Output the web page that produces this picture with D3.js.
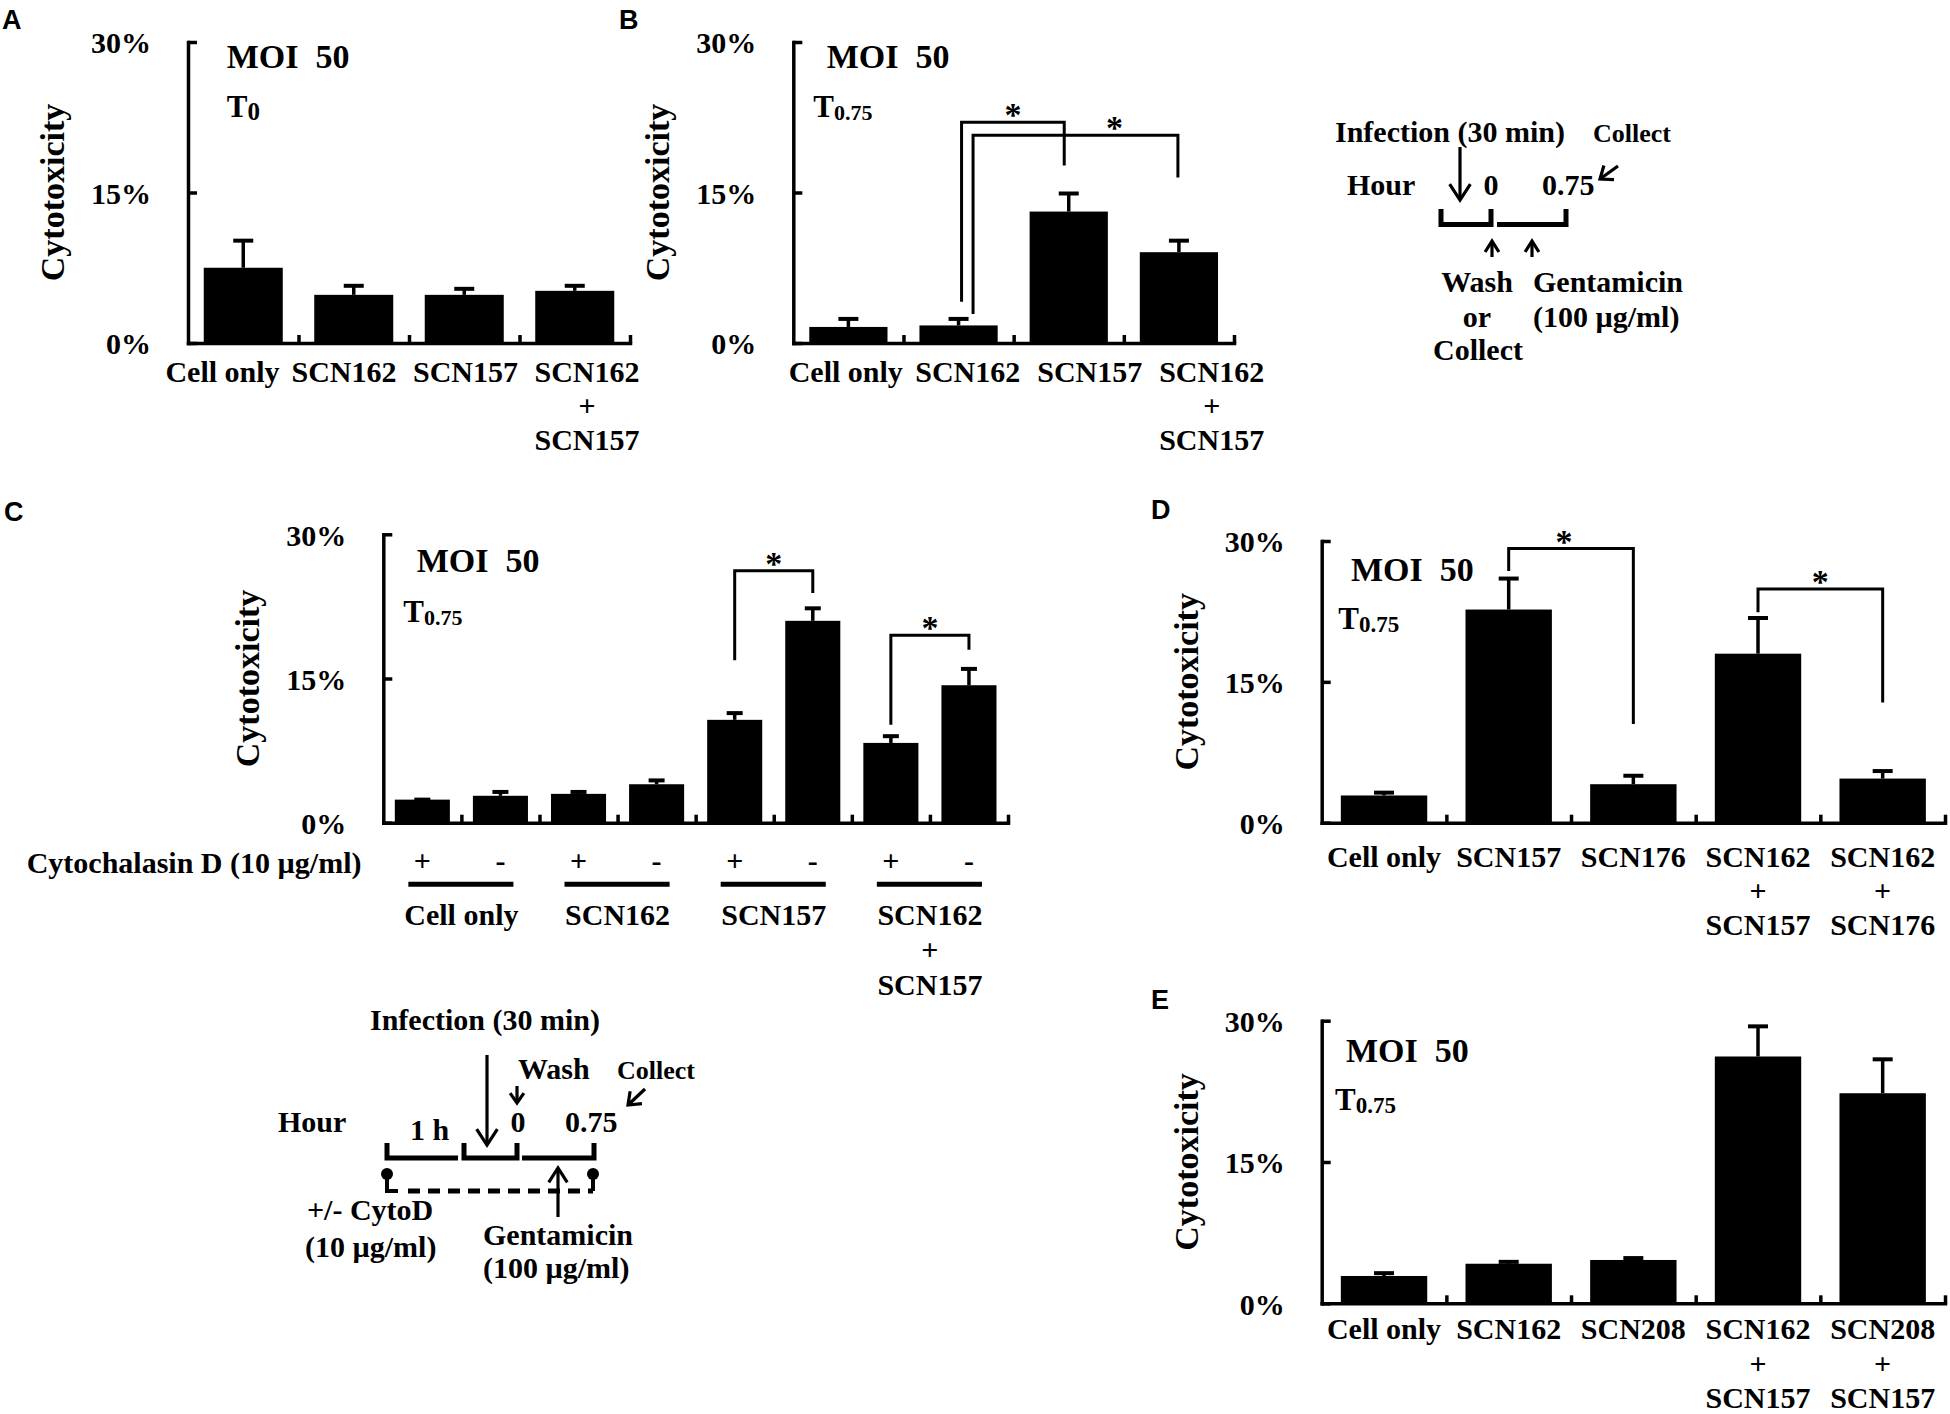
<!DOCTYPE html>
<html><head><meta charset="utf-8">
<script src="https://cdn.jsdelivr.net/npm/d3@7"></script>
<style>
body{margin:0;background:#fff;}
svg text{font-family:"Liberation Serif","Times New Roman",serif;font-weight:bold;fill:#000;}
svg text.plabel{font-family:"Liberation Sans",Arial,sans-serif;}
</style></head><body>
<svg id="fig" width="1950" height="1414" xmlns="http://www.w3.org/2000/svg"></svg>
<script>
// ---------------- DATA ----------------
const yTickValues = [0, 15, 30];
const yTickLabels = ["0%", "15%", "30%"];

const catsA = ["Cell only", "SCN162", "SCN157", "SCN162\n+\nSCN157"];
const valsA = [7.5, 4.8, 4.8, 5.2];
const errA  = [10.2, 5.7, 5.4, 5.7];

const catsB = ["Cell only", "SCN162", "SCN157", "SCN162\n+\nSCN157"];
const valsB = [1.6, 1.75, 13.1, 9.05];
const errB  = [2.4, 2.4, 14.9, 10.2];
// significance brackets: [from bar, to bar, top level %, from-end %, to-end %]
const sigB = [[1, 2, 22.0, 4.1, 17.7], [1, 3, 20.7, 2.9, 16.5]];

const cytoC   = ["+", "-", "+", "-", "+", "-", "+", "-"];
const groupsC = ["Cell only", "SCN162", "SCN157", "SCN162\n+\nSCN157"];
const valsC = [2.4, 2.8, 3.0, 4.0, 10.7, 21.0, 8.3, 14.3];
const errC  = [2.4, 3.2, 3.2, 4.4, 11.4, 22.3, 9.0, 16.0];
const sigC = [[4, 5, 26.2, 16.9, 23.9], [6, 7, 19.5, 10.2, 18.0]];

const catsD = ["Cell only", "SCN157", "SCN176", "SCN162\n+\nSCN157", "SCN162\n+\nSCN176"];
const valsD = [2.9, 22.7, 4.1, 18.0, 4.7];
const errD  = [3.2, 26.0, 5.0, 21.8, 5.5];
const sigD = [[1, 2, 29.2, 26.8, 10.5], [3, 4, 24.9, 22.4, 12.8]];

const catsE = ["Cell only", "SCN162", "SCN208", "SCN162\n+\nSCN157", "SCN208\n+\nSCN157"];
const valsE = [2.9, 4.2, 4.6, 26.2, 22.3];
const errE  = [3.2, 4.4, 4.8, 29.4, 25.9];

// ---------------- DRAWING ----------------
const svg = d3.select("#fig");
svg.append("rect").attr("width", 1950).attr("height", 1414).attr("fill", "#fff");
const SW = 3.5;

function txt(g, x, y, s, size, anchor) {
  return g.append("text").attr("x", x).attr("y", y).attr("font-size", size)
    .attr("text-anchor", anchor || "start").style("white-space", "pre").text(s);
}
function multiline(g, x, y, s, size, lh) {
  const t = g.append("text").attr("font-size", size).attr("text-anchor", "middle");
  s.split("\n").forEach((line, i) => {
    t.append("tspan").attr("x", x).attr("y", y + i * lh).text(line);
  });
}
function arrow(g, x1, y1, x2, y2, head, sw, spread) {
  const a = Math.atan2(y2 - y1, x2 - x1), s = (spread || 32) * Math.PI / 180;
  g.append("line").attr("x1", x1).attr("y1", y1).attr("x2", x2).attr("y2", y2)
    .attr("stroke", "#000").attr("stroke-width", sw);
  g.append("polyline").attr("fill", "none").attr("stroke", "#000").attr("stroke-width", sw)
    .attr("points", [[x2 - head * Math.cos(a - s), y2 - head * Math.sin(a - s)], [x2, y2],
                     [x2 - head * Math.cos(a + s), y2 - head * Math.sin(a + s)]].join(" "));
}

function panel(cfg) {
  const g = svg.append("g");
  const n = cfg.vals.length;
  const x = d3.scaleBand().domain(d3.range(n)).range([cfg.x0, cfg.x1])
    .paddingInner(cfg.pad).paddingOuter(cfg.pad / 2);
  const y = d3.scaleLinear().domain([0, 30]).range([cfg.yBot, cfg.yTop]);
  const cx = i => x(i) + x.bandwidth() / 2;

  // bars
  g.selectAll("rect.bar").data(cfg.vals).join("rect").attr("class", "bar")
    .attr("x", (d, i) => x(i)).attr("width", x.bandwidth())
    .attr("y", d => y(d)).attr("height", d => y(0) - y(d)).attr("fill", "#000");
  // error bars
  const eg = g.append("g").attr("stroke", "#000").attr("stroke-width", SW);
  eg.selectAll("line.stem").data(cfg.err).join("line").attr("class", "stem")
    .attr("x1", (d, i) => cx(i)).attr("x2", (d, i) => cx(i))
    .attr("y1", (d, i) => y(cfg.vals[i])).attr("y2", d => y(d));
  eg.selectAll("line.cap").data(cfg.err).join("line").attr("class", "cap")
    .attr("stroke-width", 4)
    .attr("x1", (d, i) => cx(i) - cfg.capW / 2).attr("x2", (d, i) => cx(i) + cfg.capW / 2)
    .attr("y1", d => y(d)).attr("y2", d => y(d));

  // y axis
  const ya = d3.axisLeft(y).tickValues(yTickValues).tickFormat((d, i) => yTickLabels[i])
    .tickSizeInner(-9).tickSizeOuter(0).tickPadding(37);
  const yg = g.append("g").attr("transform", `translate(${cfg.x0},0)`).call(ya);
  yg.select(".domain").attr("stroke-width", SW).attr("stroke-linecap", "square");
  yg.selectAll(".tick line").attr("stroke-width", SW);
  yg.selectAll(".tick text").attr("font-size", 30).attr("dy", "0.36em").attr("fill", "#000");

  // x axis (ticks at category boundaries, pointing up)
  const xi = d3.scaleLinear().domain([0, n]).range([cfg.x0, cfg.x1]);
  const xa = d3.axisBottom(xi).tickValues(d3.range(1, n + 1)).tickFormat("")
    .tickSizeInner(-8).tickSizeOuter(0);
  const xg = g.append("g").attr("transform", `translate(0,${cfg.yBot})`).call(xa);
  xg.select(".domain").attr("stroke-width", SW).attr("stroke-linecap", "square");
  xg.selectAll(".tick line").attr("stroke-width", SW);

  // y title
  g.append("text").attr("font-size", 34).attr("text-anchor", "middle")
    .attr("transform", `translate(${cfg.x0 - 124},${(cfg.yTop + cfg.yBot) / 2}) rotate(-90)`)
    .text("Cytotoxicity");

  // MOI / T labels
  txt(g, cfg.moi[0], cfg.moi[1], "MOI  50", 34);
  const t = g.append("text").attr("x", cfg.t[0]).attr("y", cfg.t[1]).attr("font-size", 31);
  t.append("tspan").text("T");
  t.append("tspan").attr("font-size", cfg.t[3]).attr("dy", 3).text(cfg.t[2]);

  // category labels
  if (cfg.cats) {
    const lx = cfg.labelRange
      ? d3.scalePoint().domain(d3.range(n)).range(cfg.labelRange)
      : cx;
    cfg.cats.forEach((c, i) => multiline(g, lx(i), cfg.labelBase, c, 30, cfg.lineH));
  }

  // significance brackets
  (cfg.sig || []).forEach((s, k) => {
    const off = (cfg.sigOff && cfg.sigOff[k]) || [0, 0, 0];
    const xa0 = cx(s[0]) + off[0], xb0 = cx(s[1]) + off[1];
    g.append("path").attr("fill", "none").attr("stroke", "#000").attr("stroke-width", 3)
      .attr("d", `M${xa0},${y(s[3])}V${y(s[2])}H${xb0}V${y(s[4])}`);
    txt(g, (xa0 + xb0) / 2 + (off[2] || 0), y(s[2]) + 4, "*", 34, "middle");
  });

  return { g, x, y, cx };
}

// Panel letters
[["A", 2, 29], ["B", 619, 29], ["C", 4, 521], ["D", 1151, 519], ["E", 1151, 1009]].forEach(p => {
  svg.append("text").attr("class", "plabel").attr("x", p[1]).attr("y", p[2])
    .attr("font-size", 27).text(p[0]);
});

panel({ vals: valsA, err: errA, cats: catsA, x0: 188, x1: 630, yTop: 42, yBot: 343,
  pad: 0.285, capW: 20, labelRange: [222.5, 587], labelBase: 381.7, lineH: 34.3,
  moi: [226.7, 68.3], t: [226.7, 116.7, "0", 25] });

panel({ vals: valsB, err: errB, cats: catsB, x0: 793.3, x1: 1234, yTop: 42, yBot: 343,
  pad: 0.29, capW: 20, labelRange: [845.8, 1211.7], labelBase: 381.7, lineH: 34.3,
  moi: [826.7, 67.7], t: [813.3, 116.7, "0.75", 22], sig: sigB,
  sigOff: [[3, -4.5, 0], [14.5, -1, 39]] });

const pc = panel({ vals: valsC, err: errC, x0: 383.3, x1: 1008, yTop: 534.3, yBot: 822.7,
  pad: 0.295, capW: 16, moi: [416.7, 571.7], t: [403.3, 621.7, "0.75", 22], sig: sigC });
// Panel C extra rows
txt(pc.g, 26.7, 872.7, "Cytochalasin D (10 µg/ml)", 30);
cytoC.forEach((s, i) => txt(pc.g, pc.cx(i), 871, s, 30, "middle"));
groupsC.forEach((gname, k) => {
  const c1 = pc.cx(2 * k), c2 = pc.cx(2 * k + 1);
  pc.g.append("line").attr("x1", c1 - 14).attr("x2", c2 + 13).attr("y1", 884.3).attr("y2", 884.3)
    .attr("stroke", "#000").attr("stroke-width", 5);
  multiline(pc.g, (c1 + c2) / 2, 925, gname, 30, 35);
});

panel({ vals: valsD, err: errD, cats: catsD, x0: 1321.7, x1: 1945, yTop: 541, yBot: 822.7,
  pad: 0.307, capW: 20, labelBase: 866.7, lineH: 34.2,
  moi: [1351, 581], t: [1338.3, 629.3, "0.75", 23], sig: sigD,
  sigOff: [[0, 0, -7], [0, 0, 0]] });

panel({ vals: valsE, err: errE, cats: catsE, x0: 1321.7, x1: 1945, yTop: 1020.7, yBot: 1303.3,
  pad: 0.307, capW: 20, labelBase: 1339.3, lineH: 34.5,
  moi: [1346, 1061.7], t: [1335, 1110, "0.75", 23] });

// ---------------- Inset timeline (panel B) ----------------
const i1 = svg.append("g");
txt(i1, 1335, 142, "Infection (30 min)", 30);
txt(i1, 1593, 142, "Collect", 26);
txt(i1, 1347, 195, "Hour", 30);
txt(i1, 1491, 195, "0", 30, "middle");
txt(i1, 1542, 195, "0.75", 30);
arrow(i1, 1460, 147, 1460, 200, 19, 3.2, 33);
arrow(i1, 1618, 166, 1600, 179, 14, 3.2, 38);
i1.append("path").attr("fill", "none").attr("stroke", "#000").attr("stroke-width", 5)
  .attr("d", "M1441,209V224.5H1491V209M1497,224.5H1566V209");
arrow(i1, 1492, 257, 1492, 241, 13, 3.2, 32);
arrow(i1, 1532, 257, 1532, 241, 13, 3.2, 32);
txt(i1, 1477, 292, "Wash", 30, "middle");
txt(i1, 1477, 327, "or", 30, "middle");
txt(i1, 1478, 360, "Collect", 30, "middle");
txt(i1, 1533, 292, "Gentamicin", 30);
txt(i1, 1533, 327, "(100 µg/ml)", 30);

// ---------------- Inset timeline (panel C) ----------------
const i2 = svg.append("g");
txt(i2, 370, 1030, "Infection (30 min)", 30);
arrow(i2, 487, 1055, 487, 1145, 19, 3.2, 33);
txt(i2, 518, 1079, "Wash", 30);
arrow(i2, 517, 1086, 517, 1103, 12, 3.2, 35);
txt(i2, 617, 1079, "Collect", 26);
arrow(i2, 645, 1089, 628, 1105, 14, 3.2, 38);
txt(i2, 278, 1132, "Hour", 30);
txt(i2, 410, 1140, "1 h", 30);
txt(i2, 518, 1132, "0", 30, "middle");
txt(i2, 565, 1132, "0.75", 30);
i2.append("path").attr("fill", "none").attr("stroke", "#000").attr("stroke-width", 5)
  .attr("d", "M387,1143V1158H458M464,1143V1158H517V1143M522,1158H594V1143");
i2.append("path").attr("fill", "none").attr("stroke", "#000").attr("stroke-width", 4)
  .attr("d", "M387,1175V1191H398M593,1175V1191");
i2.append("line").attr("x1", 408).attr("x2", 593).attr("y1", 1191).attr("y2", 1191)
  .attr("stroke", "#000").attr("stroke-width", 5).attr("stroke-dasharray", "12,8");
i2.append("circle").attr("cx", 387).attr("cy", 1174).attr("r", 6).attr("fill", "#000");
i2.append("circle").attr("cx", 593).attr("cy", 1174).attr("r", 6).attr("fill", "#000");
arrow(i2, 558, 1217, 558, 1168, 17, 3.2, 33);
txt(i2, 307, 1220, "+/- CytoD", 30);
txt(i2, 305, 1257, "(10 µg/ml)", 30);
txt(i2, 483, 1245, "Gentamicin", 30);
txt(i2, 483, 1278, "(100 µg/ml)", 30);
</script>
</body></html>
